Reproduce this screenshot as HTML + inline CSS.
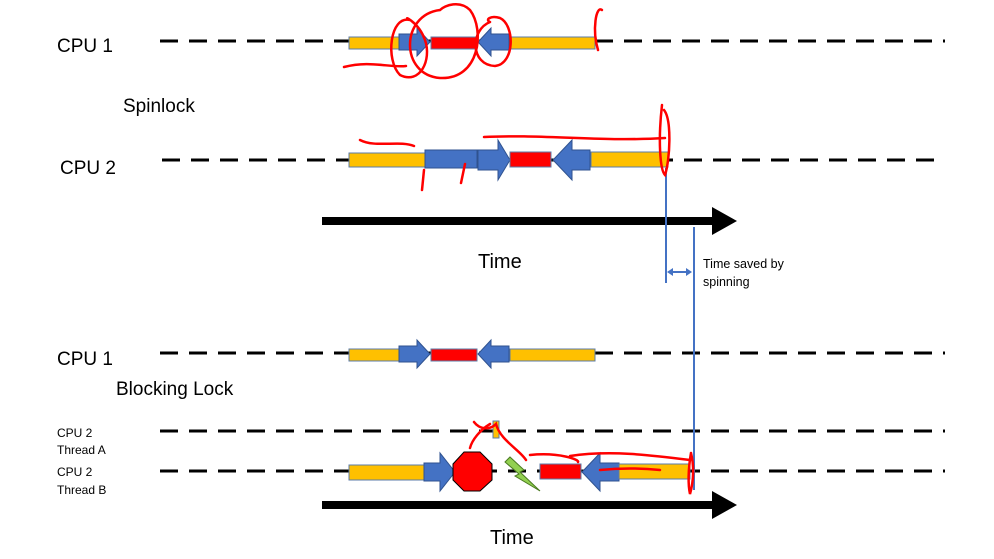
<!DOCTYPE html>
<html><head><meta charset="utf-8"><style>
html,body{margin:0;padding:0;background:#fff;}
svg{display:block;font-family:"Liberation Sans",sans-serif;}
text{fill:#000;}
</style></head><body>
<svg width="994" height="559" viewBox="0 0 994 559">
<defs>
<g id="rarrow"><polygon points="0,-8 18,-8 18,-14 31,0 18,14 18,8 0,8" fill="#4472c4" stroke="#2f528f" stroke-width="1"/></g>
<g id="larrow"><polygon points="31,-8 13,-8 13,-14 0,0 13,14 13,8 31,8" fill="#4472c4" stroke="#2f528f" stroke-width="1"/></g>
</defs>
<g stroke="#000" stroke-width="3" stroke-dasharray="18,11">
<line x1="160" y1="41" x2="945" y2="41"/>
<line x1="162" y1="160" x2="945" y2="160"/>
<line x1="160" y1="353" x2="945" y2="353"/>
<line x1="160" y1="431" x2="945" y2="431"/>
<line x1="160" y1="471" x2="945" y2="471"/>
</g>
<g font-size="19">
<text x="57" y="52">CPU 1</text>
<text x="123" y="112">Spinlock</text>
<text x="60" y="174">CPU 2</text>
<text x="57" y="365">CPU 1</text>
<text x="116" y="395">Blocking Lock</text>
</g>
<g font-size="12">
<text x="57" y="437">CPU 2</text>
<text x="57" y="454">Thread A</text>
<text x="57" y="476">CPU 2</text>
<text x="57" y="494">Thread B</text>
</g>
<!-- CPU1 spin -->
<g>
<rect x="349" y="37" width="50" height="12" fill="#ffc000" stroke="#5b7ba8"/>
<use href="#rarrow" x="399" y="42"/>
<rect x="431" y="37" width="46" height="12" fill="#f00" stroke="#5b7ba8"/>
<use href="#larrow" x="478" y="42"/>
<rect x="510" y="37" width="85" height="12" fill="#ffc000" stroke="#5b7ba8"/>
</g>
<!-- CPU2 spin -->
<g>
<rect x="349" y="153" width="76" height="14" fill="#ffc000" stroke="#5b7ba8"/>
<rect x="425" y="150" width="52" height="18" fill="#4472c4" stroke="#2f528f"/>
<polygon points="478,150 498,150 498,140 510,160 498,180 498,170 478,170" fill="#4472c4" stroke="#2f528f"/>
<rect x="510" y="152" width="41" height="15" fill="#f00" stroke="#5b7ba8"/>
<polygon points="590,150 572,150 572,140 553,160 572,180 572,170 590,170" fill="#4472c4" stroke="#2f528f"/>
<rect x="591" y="152" width="77" height="15" fill="#ffc000" stroke="#5b7ba8"/>
</g>
<!-- time arrows -->
<g>
<rect x="322" y="217" width="392" height="8" fill="#000"/>
<polygon points="712,207 737,221 712,235" fill="#000"/>
</g>
<text x="478" y="268" font-size="20">Time</text>
<g>
<rect x="322" y="501" width="392" height="8" fill="#000"/>
<polygon points="712,491 737,505 712,519" fill="#000"/>
</g>
<text x="490" y="544" font-size="20">Time</text>
<!-- saved lines -->
<g stroke="#4472c4" stroke-width="2">
<line x1="666" y1="168" x2="666" y2="283"/>
<line x1="694" y1="227" x2="694" y2="490"/>
<line x1="670" y1="272" x2="690" y2="272"/>
<polygon points="667,272 673,268 673,276" fill="#4472c4" stroke="none"/>
<polygon points="692,272 686,268 686,276" fill="#4472c4" stroke="none"/>
</g>
<text x="703" y="268" font-size="12.5">Time saved by</text>
<text x="703" y="286" font-size="12.5">spinning</text>
<!-- CPU1 block -->
<g>
<rect x="349" y="349" width="50" height="12" fill="#ffc000" stroke="#5b7ba8"/>
<use href="#rarrow" x="399" y="354"/>
<rect x="431" y="349" width="46" height="12" fill="#f00" stroke="#5b7ba8"/>
<use href="#larrow" x="478" y="354"/>
<rect x="510" y="349" width="85" height="12" fill="#ffc000" stroke="#5b7ba8"/>
</g>
<rect x="493" y="421" width="6" height="17" fill="#ffc000" stroke="#5b7ba8"/>
<!-- thread B -->
<g>
<rect x="349" y="465" width="76" height="15" fill="#ffc000" stroke="#5b7ba8"/>
<polygon points="424,463 440,463 440,453 455,472 440,491 440,481 424,481" fill="#4472c4" stroke="#2f528f"/>
<polygon points="464,452 480,452 492,464 492,480 480,491 464,491 453,480 453,464" fill="#f00" stroke="#000"/>
<polygon points="510,457 524,470 520,472 540,491 515,476 519,474 505,462" fill="#92d050" stroke="#4a7a20"/>
<rect x="540" y="464" width="41" height="15" fill="#f00" stroke="#5b7ba8"/>
<polygon points="619,463 600,463 600,453 582,472 600,491 600,481 619,481" fill="#4472c4" stroke="#2f528f"/>
<rect x="619" y="464" width="71" height="15" fill="#ffc000" stroke="#5b7ba8"/>
</g>
<!-- red scribbles -->
<g fill="none" stroke="#f00" stroke-width="2.5" stroke-linecap="round">
<path d="M344,67 C370,60 390,68 406,66"/>
<path d="M410,20 C390,15 385,60 400,75 C420,85 432,60 425,40 C418,20 400,15 410,20"/>
<path d="M440,10 C400,15 400,75 440,78 C480,80 485,30 470,10 C460,0 445,5 440,10"/>
<path d="M490,22 C470,30 470,65 495,66 C515,64 515,25 500,18 C490,15 485,20 490,22"/>
<path d="M598,50 C592,30 596,5 602,10"/>
<path d="M360,140 C375,148 400,140 414,146"/>
<path d="M424,170 L422,190"/><path d="M465,164 L461,183"/>
<path d="M484,137 C540,134 600,142 665,138"/>
<path d="M662,105 C658,140 660,170 665,175 C670,160 672,120 664,110"/>
<path d="M474,422 C480,430 490,430 496,424 C500,440 520,450 526,460"/>
<path d="M470,448 C472,440 480,430 490,424"/>
<path d="M530,455 C560,452 580,460 578,462"/>
<path d="M570,456 C610,450 650,455 690,460"/>
<path d="M600,470 C620,468 640,468 660,470"/>
<path d="M691,453 C688,470 688,485 690,494 C694,480 694,465 691,453"/>
</g>
</svg>
</body></html>
